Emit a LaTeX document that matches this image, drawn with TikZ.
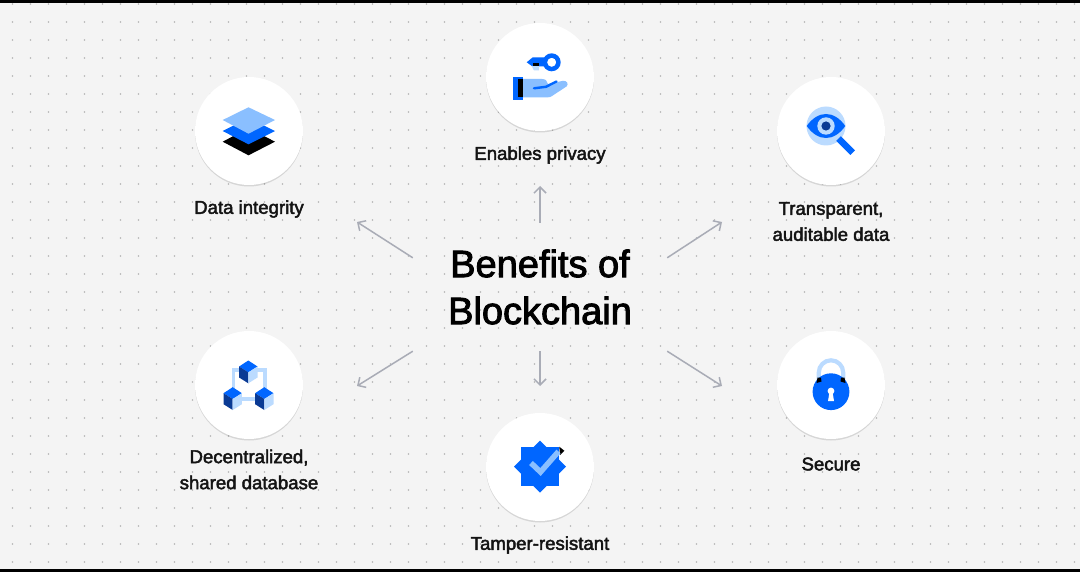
\documentclass[tikz,border=0pt]{standalone}
\usepackage{fontspec}
\setmainfont[FakeBold=2.4]{Liberation Sans}
\usetikzlibrary{arrows.meta,shadows}
\definecolor{pagegray}{HTML}{F4F4F4}
\definecolor{dotgray}{HTML}{B4B4B4}
\definecolor{arrowgray}{HTML}{A9ACB6}
\definecolor{inkblack}{HTML}{141414}
\definecolor{iconblue}{HTML}{0066FF}
\definecolor{iconsky}{HTML}{8ABFFF}
\definecolor{iconpale}{HTML}{BBDBFF}
\definecolor{iconnavy}{HTML}{0A3A94}
\tikzset{
  disc/.style={circle, fill=white, minimum size=108pt, inner sep=0pt, drop shadow={shadow xshift=0pt, shadow yshift=-1.5pt, opacity=.12, fill=black}},
  caption/.style={align=center, text=inkblack, inner sep=0pt, font=\fontsize{18.6}{26}\selectfont},
  headline/.style={align=center, text=black, inner sep=0pt, minimum width=254pt, minimum height=128pt, font=\fontsize{38}{47}\selectfont},
  pointer/.style={draw=arrowgray, line width=1.5pt, -{Straight Barb[length=6pt,width=12pt,line width=1.5pt]}},
}
% one block of the network icon, given by its middle corner
\newcommand{\blockcube}[2]{
  \fill[iconblue] (#1,#2) -- ++(-9.2,-5.8) -- ++(9.2,-6) -- ++(9.2,6) -- cycle;
  \fill[iconnavy] (#1,#2) -- ++(-9.2,-5.8) -- ++(0,11) -- ++(9.2,5.8) -- cycle;
  \fill[iconpale] (#1,#2) -- ++(9.2,-5.8) -- ++(0,11) -- ++(-9.2,5.8) -- cycle;
}
\begin{document}
\begin{tikzpicture}[x=1pt, y=-1pt]
  \useasboundingbox (0,0) rectangle (1080,572);
  \fill[pagegray] (0,0) rectangle (1080,572);
  % dotted paper
  \foreach \i in {0,...,59}
    \foreach \j in {0,...,31}
      \fill[dotgray] (12.5+18*\i,4+18*\j) circle (.8);
  \fill[black] (0,0) rectangle (1080,3);
  \fill[black] (0,568.5) rectangle (1080,572);

  % discs
  \node[disc] (privacy) at (540,77) {};
  \node[disc] (integrity) at (249,131) {};
  \node[disc] (transparent) at (831,131) {};
  \node[disc] (decentral) at (249,385) {};
  \node[disc] (secure) at (831,385) {};
  \node[disc] (tamper) at (540,467) {};

  % texts
  \node[headline] (title) at (540,287) {Benefits of\\Blockchain};
  \node[caption] (privacylabel) at (540,155) {Enables privacy};
  \node[caption] (integritylabel) at (249,209) {Data integrity};
  \node[caption] (transparentlabel) at (831,221.5) {Transparent,\\auditable data};
  \node[caption] (decentrallabel) at (249,469.5) {Decentralized,\\shared database};
  \node[caption] (securelabel) at (831,464) {Secure};
  \node[caption] (tamperlabel) at (540,545) {Tamper-resistant};

  % arrows
  \coordinate (tipup) at (540,186);
  \coordinate (tipdown) at (540,386);
  \coordinate (tipupleft) at (357,222);
  \coordinate (tipupright) at (722,222);
  \coordinate (tipdownleft) at (357,386);
  \coordinate (tipdownright) at (722,386);
  \draw[pointer] (title.north) -- (tipup);
  \draw[pointer] (title.south) -- (tipdown);
  \draw[pointer] ([yshift=-35pt]title.north west) -- (tipupleft);
  \draw[pointer] ([yshift=-35pt]title.north east) -- (tipupright);
  \draw[pointer] (title.south west) -- (tipdownleft);
  \draw[pointer] (title.south east) -- (tipdownright);

  % key and hand
  \fill[iconblue] (526.7,62.3) -- (532.5,57.5) -- (545,57.5) -- (545,66.5) -- (532.5,66.5) -- cycle;
  \fill[iconpale] (531.7,66) -- (539,66) -- (539,70.5) -- (534,70.5) -- cycle;
  \fill[black] (532.5,63.3) rectangle (539,66);
  \fill[iconblue, even odd rule] (551.7,62.3) circle (9) (551.7,62.3) circle (4.6);
  \fill[iconsky] (523,79) -- (542,79) .. controls (546,79) and (547,81) .. (548,84) -- (563,80.8) .. controls (567,80.5) and (569,84) .. (566.5,86.5) -- (552,96) .. controls (551,96.8) and (550,97.3) .. (548,97.3) -- (523,97.3) -- cycle;
  \draw[iconblue, line width=2.4pt, line cap=round] (534,88.3) -- (546,86.8) -- (556.5,81.5);
  \fill[iconblue] (513.3,76.7) rectangle (523.3,100);
  \fill[black] (518.3,79) rectangle (522.7,97.3);

  % layers
  \fill[black] (222.7,141.7) -- (248.5,128) -- (275,141.7) -- (248.5,155.3) -- cycle;
  \fill[iconblue] (222.7,131) -- (248.5,118) -- (275,131) -- (248.5,144.3) -- cycle;
  \fill[iconsky] (222.7,120) -- (248.5,107.3) -- (275,120) -- (248.5,133.7) -- cycle;

  % eye and lens
  \fill[iconpale] (826,126) circle (19.5);
  \draw[iconblue, line width=6.5pt] (838.5,138.5) -- (852.7,152.7);
  \fill[iconblue] (806.7,126) .. controls (818,110) and (834,110) .. (845.3,126) .. controls (834,142) and (818,142) .. cycle;
  \fill[iconpale] (826,126) circle (8.7);
  \fill[iconnavy] (826,126) circle (4.6);

  % network of blocks
  \draw[iconpale, line width=3.5pt] (233.3,395) -- (233.3,370) -- (265,370) -- (265,395);
  \draw[iconpale, line width=3.5pt] (235,399) -- (262,399);
  \blockcube{248.3}{372.3}
  \blockcube{232.7}{399}
  \blockcube{264.3}{399}

  % lock
  \draw[iconpale, line width=4.2pt] (818.8,384) -- (818.8,372.5) arc[start angle=180, end angle=360, x radius=12.2, y radius=12.2] -- (843.2,384);
  \fill[iconblue] (831,391.7) circle (18.4);
  \fill[black] (816.5,383) -- (817.5,377.7) -- (821,377.7) -- (821.5,381.5) -- cycle;
  \fill[black] (845.5,383) -- (844.5,377.7) -- (841,377.7) -- (840.5,381.5) -- cycle;
  \fill[white] (831,391) circle (3.4);
  \fill[white] (829.5,392) -- (832.5,392) -- (834,401) -- (828,401) -- cycle;

  % badge with tick
  \fill[iconblue] (520.7,447.3) rectangle (559.3,486);
  \fill[iconblue] (514,466.7) -- (540,440.7) -- (566,466.7) -- (540,492.7) -- cycle;
  \fill[black] (559.3,446.7) -- (564.3,450.7) -- (560,455) -- cycle;
  \draw[iconsky, line width=5.5pt] (531,463) -- (540.5,472) -- (558.5,451.5);
\end{tikzpicture}
\end{document}
